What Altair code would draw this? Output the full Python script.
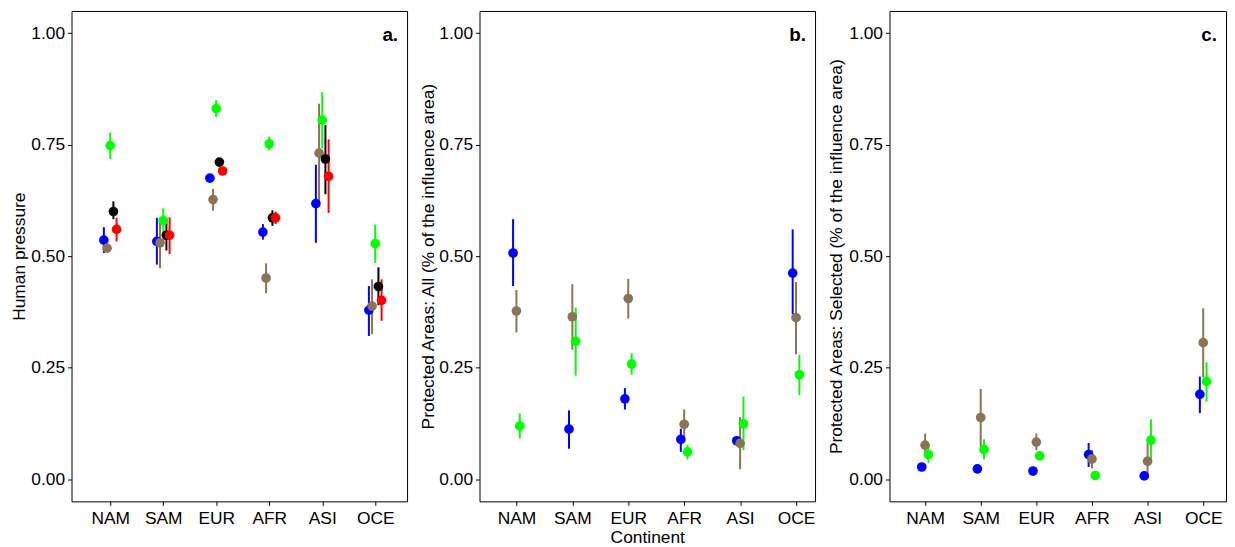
import altair as alt
import pandas as pd

continents = ["NAM", "SAM", "EUR", "AFR", "ASI", "OCE"]

series_a = ["Blue", "Brown", "Green", "Black", "Red"]
series_bc = ["Blue", "Brown", "Green"]
colour_of = {"Blue": "#0000FF", "Brown": "#8B7355", "Green": "#00FF00",
             "Black": "#000000", "Red": "#FF0000"}

# Panel a: Human pressure
a_mean = {
    "Blue":  [0.536, 0.533, 0.675, 0.554, 0.618, 0.379],
    "Brown": [0.518, 0.530, 0.627, 0.451, 0.731, 0.388],
    "Green": [0.748, 0.580, 0.831, 0.752, 0.805, 0.528],
    "Black": [0.600, 0.547, 0.711, 0.586, 0.718, 0.432],
    "Red":   [0.560, 0.547, 0.691, 0.586, 0.679, 0.401],
}
a_lo = {
    "Blue":  [0.507, 0.481, 0.667, 0.537, 0.530, 0.321],
    "Brown": [0.508, 0.473, 0.602, 0.417, 0.620, 0.325],
    "Green": [0.718, 0.550, 0.812, 0.737, 0.742, 0.485],
    "Black": [0.583, 0.513, 0.703, 0.568, 0.639, 0.390],
    "Red":   [0.533, 0.505, 0.683, 0.572, 0.597, 0.355],
}
a_hi = {
    "Blue":  [0.565, 0.586, 0.683, 0.572, 0.705, 0.433],
    "Brown": [0.528, 0.585, 0.651, 0.484, 0.842, 0.448],
    "Green": [0.777, 0.607, 0.850, 0.768, 0.868, 0.571],
    "Black": [0.623, 0.585, 0.719, 0.603, 0.794, 0.475],
    "Red":   [0.586, 0.587, 0.699, 0.600, 0.762, 0.448],
}

# Panel b: Protected Areas: All
b_mean = {
    "Blue":  [0.507, 0.112, 0.180, 0.089, 0.086, 0.462],
    "Brown": [0.377, 0.364, 0.405, 0.123, 0.080, 0.362],
    "Green": [0.119, 0.309, 0.258, 0.061, 0.124, 0.234],
}
b_lo = {
    "Blue":  [0.433, 0.068, 0.156, 0.061, 0.078, 0.370],
    "Brown": [0.329, 0.290, 0.360, 0.094, 0.022, 0.280],
    "Green": [0.091, 0.232, 0.234, 0.044, 0.065, 0.188],
}
b_hi = {
    "Blue":  [0.583, 0.154, 0.204, 0.113, 0.094, 0.560],
    "Brown": [0.424, 0.437, 0.449, 0.156, 0.139, 0.442],
    "Green": [0.147, 0.385, 0.282, 0.077, 0.185, 0.279],
}

# Panel c: Protected Areas: Selected
c_mean = {
    "Blue":  [0.027, 0.023, 0.018, 0.055, 0.007, 0.190],
    "Brown": [0.076, 0.138, 0.083, 0.045, 0.040, 0.306],
    "Green": [0.055, 0.066, 0.052, 0.008, 0.087, 0.219],
}
c_lo = {
    "Blue":  [0.022, 0.013, 0.014, 0.027, 0.003, 0.148],
    "Brown": [0.061, 0.072, 0.065, 0.024, 0.002, 0.228],
    "Green": [0.036, 0.044, 0.045, 0.004, 0.042, 0.174],
}
c_hi = {
    "Blue":  [0.032, 0.033, 0.022, 0.081, 0.011, 0.230],
    "Brown": [0.102, 0.202, 0.102, 0.065, 0.080, 0.383],
    "Green": [0.074, 0.089, 0.059, 0.012, 0.134, 0.262],
}

y_ticks = [0.0, 0.25, 0.5, 0.75, 1.0]
FONT = "Liberation Sans"
DODGE = 0.06
label_expr = "[" + ",".join("'%s'" % c for c in continents) + "][datum.value - 1]"


def build_frame(series, mean, lo, hi):
    rows = []
    centre = (len(series) - 1) / 2
    for k, s in enumerate(series):
        for i, c in enumerate(continents):
            rows.append({
                "Continent": c,
                "Series": s,
                "order": k,
                "xpos": i + 1 + (k - centre) * DODGE,
                "mean": mean[s][i],
                "lo": lo[s][i],
                "hi": hi[s][i],
            })
    return pd.DataFrame(rows)


def panel(df, series, ytitle, xtitle, label, xdomain, title_x, width):
    height = 494
    xenc = alt.X("xpos:Q",
                 scale=alt.Scale(domain=xdomain, nice=False, zero=False),
                 axis=alt.Axis(values=list(range(1, 7)), labelExpr=label_expr,
                               title=xtitle, grid=False, labelPadding=4,
                               titlePadding=2))
    yscale = alt.Scale(domain=[-0.05, 1.05], nice=False, zero=False)
    yaxis = alt.Axis(values=y_ticks, format=".2f", title=ytitle, grid=False,
                     titleX=title_x, titleBaseline="bottom")
    colour = alt.Color("Series:N",
                       scale=alt.Scale(domain=series,
                                       range=[colour_of[s] for s in series]),
                       legend=None)
    base = alt.Chart(df)
    rules = base.mark_rule(strokeWidth=2).encode(
        x=xenc,
        y=alt.Y("lo:Q", scale=yscale, axis=yaxis),
        y2="hi:Q",
        color=colour,
        order=alt.Order("order:Q"),
    )
    points = base.mark_circle(size=95, opacity=1).encode(
        x=xenc,
        y=alt.Y("mean:Q", scale=yscale, axis=yaxis),
        color=colour,
        order=alt.Order("order:Q"),
    )
    tag = alt.Chart(pd.DataFrame({"label": [label]})).mark_text(
        align="right", baseline="alphabetic", fontSize=19, fontWeight="bold",
        font=FONT, color="black"
    ).encode(x=alt.value(width - 9), y=alt.value(30), text="label:N")
    return alt.layer(rules, points, tag).properties(width=width, height=height)


df_a = build_frame(series_a, a_mean, a_lo, a_hi)
df_b = build_frame(series_bc, b_mean, b_lo, b_hi)
df_c = build_frame(series_bc, c_mean, c_lo, c_hi)

pa = panel(df_a, series_a, "Human pressure", None, "a.", [0.27, 6.6], -43, 338)
pb = panel(df_b, series_bc, "Protected Areas: All (% of the influence area)",
           "Continent", "b.", [0.34, 6.34], -42, 338)
pc = panel(df_c, series_bc, "Protected Areas: Selected (% of the influence area)",
           None, "c.", [0.36, 6.41], -44, 339)

chart = alt.hconcat(pa, pb, pc, spacing=11).properties(
    padding={"left": 2, "top": 0, "right": 0, "bottom": 0}
).configure_view(
    stroke="black", strokeWidth=1
).configure_axis(
    labelFont=FONT, titleFont=FONT, labelFontSize=17.5, titleFontSize=17.5,
    labelColor="black", titleColor="black", tickColor="black", tickSize=4,
    tickWidth=1, labelPadding=3, domain=False, titleFontWeight="normal"
)

chart.save("out.html", embed_options={"renderer": "svg", "actions": False})
